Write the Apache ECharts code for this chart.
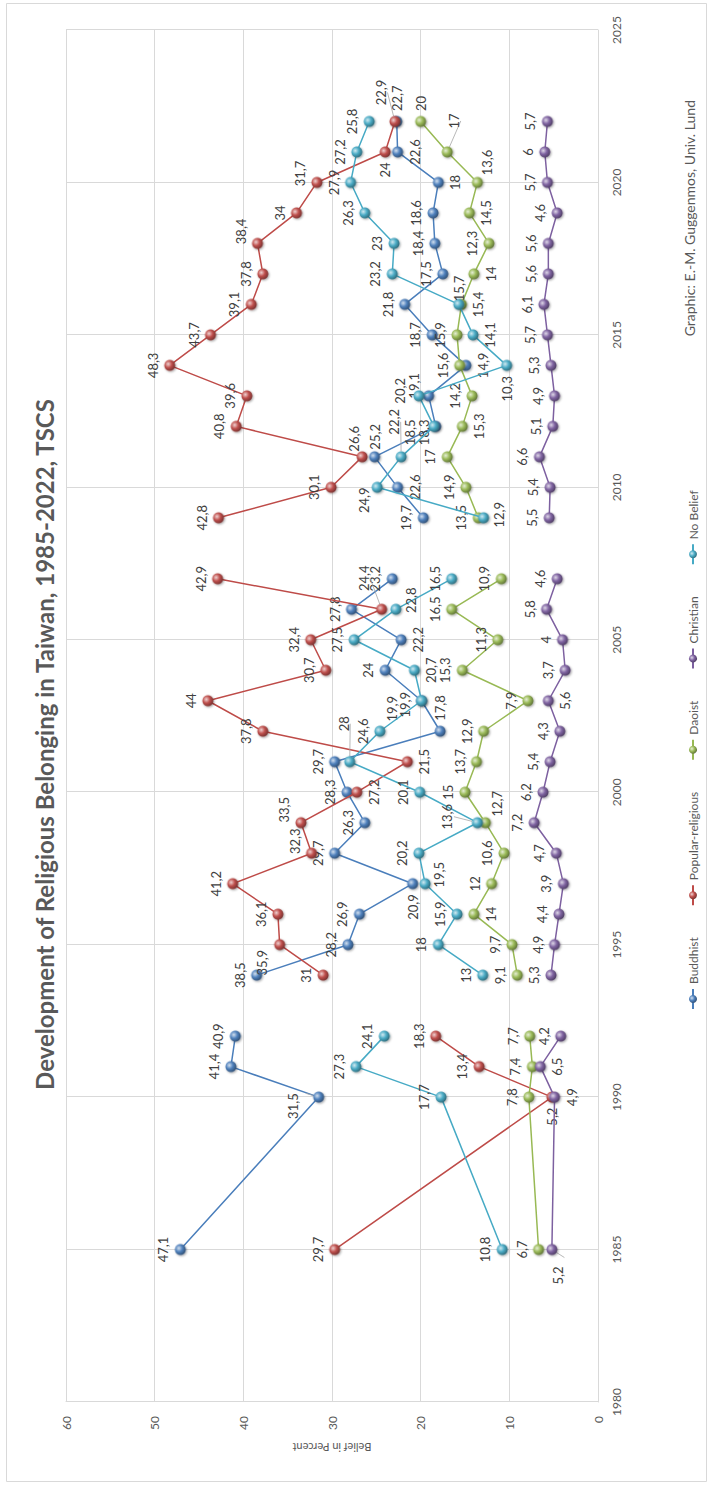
<!DOCTYPE html>
<html>
<head>
<meta charset="utf-8">
<title>Development of Religious Belonging in Taiwan</title>
<script src="https://cdn.jsdelivr.net/npm/echarts@6/dist/echarts.min.js"></script>
<style>
  html, body { margin: 0; padding: 0; width: 709px; height: 1489px; overflow: hidden; background: #fff; }
  /* the chart is laid out landscape and turned a quarter turn to fit the portrait page */
  #chart {
    position: absolute; left: 0; top: 0;
    width: 1489px; height: 709px;
    transform-origin: 0 0;
    transform: translate(0px, 1489px) rotate(-90deg);
  }
</style>
</head>
<body>
<div id="chart"></div>
<script>
// Survey years (1993 and 2008 have no wave, so the lines break there)
const years = [1985, 1990, 1991, 1992, 1993, 1994, 1995, 1996, 1997, 1998, 1999, 2000, 2001, 2002, 2003,
  2004, 2005, 2006, 2007, 2008, 2009, 2010, 2011, 2012, 2013, 2014, 2015, 2016, 2017, 2018, 2019, 2020, 2021, 2022];

const buddhist = [47.1, 31.5, 41.4, 40.9, null, 38.5, 28.2, 26.9, 20.9, 29.7, 26.3, 28.3, 29.7, 17.8, 19.9,
  24, 22.2, 27.8, 23.2, null, 19.7, 22.6, 25.2, 18.3, 19.1, 14.9, 18.7, 21.8, 17.5, 18.4, 18.6, 18, 22.6, 22.7];
const popular = [29.7, 5.2, 13.4, 18.3, null, 31, 35.9, 36.1, 41.2, 32.3, 33.5, 27.2, 21.5, 37.8, 44,
  30.7, 32.4, 24.4, 42.9, null, 42.8, 30.1, 26.6, 40.8, 39.6, 48.3, 43.7, 39.1, 37.8, 38.4, 34, 31.7, 24, 22.9];
const daoist = [6.7, 7.8, 7.4, 7.7, null, 9.1, 9.7, 14, 12, 10.6, 12.7, 15, 13.7, 12.9, 7.9,
  15.3, 11.3, 16.5, 10.9, null, 13.5, 14.9, 17, 15.3, 14.2, 15.6, 15.9, 15.4, 14, 12.3, 14.5, 13.6, 17, 20];
const christian = [5.2, 4.9, 6.5, 4.2, null, 5.3, 4.9, 4.4, 3.9, 4.7, 7.2, 6.2, 5.4, 4.3, 5.6,
  3.7, 4, 5.8, 4.6, null, 5.5, 5.4, 6.6, 5.1, 4.9, 5.3, 5.7, 6.1, 5.6, 5.6, 4.6, 5.7, 6, 5.7];
const noBelief = [10.8, 17.7, 27.3, 24.1, null, 13, 18, 15.9, 19.5, 20.2, 13.6, 20.1, 28, 24.6, 19.9,
  20.7, 27.5, 22.8, 16.5, null, 12.9, 24.9, 22.2, 18.5, 20.2, 10.3, 14.1, 15.7, 23.2, 23, 26.3, 27.9, 27.2, 25.8];

const seriesNames = ['Buddhist', 'Popular-religious', 'Daoist', 'Christian', 'No Belief'];
const yearTicks = [1980, 1985, 1990, 1995, 2000, 2005, 2010, 2015, 2020, 2025];
const percentTicks = [0, 10, 20, 30, 40, 50, 60];

// Office-style palette: line colour and marker base colour per series
const lineColors = ['#4a7ebb', '#be4b48', '#98b954', '#7d60a0', '#46aac5'];
const markColors = ['#4f81bd', '#c0504d', '#9bbb59', '#8064a2', '#4bacc6'];

// Where each value label sits: default above the marker; 'b','l','r' or a pixel offset from the marker centre
const labelSpots = {
  'Buddhist': { 1990: [-9, -26], 1997: 'l', 2002: 'r', 2003: [-8, -30], 2005: 'b', 2010: 'b', 2011: [20, 0], 2012: [-6, -12],
    2013: [10, -15], 2014: 'b', 2020: 'b', 2021: 'b', 2022: 'r' },
  'Popular-religious': { 1990: 'l', 1995: [-18, -18], 1998: [12, -17], 1999: [13, -17], 2000: 'b', 2001: 'b',
    2006: [31, -18], 2011: [18, -8], 2018: [12, -17], 2020: [9, -17], 2021: 'l', 2022: [29, -14] },
  'Daoist': { 1996: 'b', 1999: [19, 12], 2012: 'b', 2016: 'b', 2017: 'b', 2019: 'b', 2020: [20, 10], 2021: [31, 7], 2022: 'r' },
  'Christian': { 1985: [-26, 6], 1990: 'b', 1991: 'b', 2003: 'b' },
  'No Belief': { 1997: [9, 14], 1999: [6, -30], 2001: [38, -6], 2003: [-4, -17], 2004: 'b', 2006: [9, 15], 2009: [3, 15],
    2010: [-13, -13], 2011: [35, -7], 2012: [-6, -24], 2013: [5, -19], 2014: 'l', 2015: 'b', 2016: [16, 0] }
};

// Labels pulled away from their marker get a thin grey leader line
const leaderLabels = {
  'Buddhist': [1990],
  'Popular-religious': [2006, 2022],
  'Daoist': [2021],
  'Christian': [1985],
  'No Belief': [1999, 2001, 2011]
};

function lighten(hex, t) {
  const n = parseInt(hex.slice(1), 16);
  const r = (n >> 16) & 255, g = (n >> 8) & 255, b = n & 255;
  const f = c => Math.round(t >= 0 ? c + (255 - c) * t : c * (1 + t));
  return 'rgb(' + f(r) + ',' + f(g) + ',' + f(b) + ')';
}

function sphere(base) {
  return {
    type: 'radial', x: 0.62, y: 0.36, r: 0.72,
    colorStops: [
      { offset: 0, color: lighten(base, 0.75) },
      { offset: 0.45, color: base },
      { offset: 1, color: lighten(base, -0.45) }
    ]
  };
}

function labelFor(spot) {
  if (Array.isArray(spot)) return { position: 'inside', offset: spot };
  const pos = { t: 'top', b: 'bottom', l: 'left', r: 'right' }[spot || 't'];
  return { position: pos, distance: 5 };
}

const fmt = v => String(v).replace('.', ',');

function buildSeries(name, values, idx) {
  const spots = labelSpots[name] || {};
  const leaders = leaderLabels[name] || [];
  const data = years.map((yr, i) => {
    const v = values[i];
    if (v === null) return { value: [yr, '-'] };
    const item = { value: [yr, v], label: labelFor(spots[yr]) };
    if (leaders.indexOf(yr) >= 0) {
      item.labelLine = { show: true, smooth: false, length2: 0, lineStyle: { color: '#a6a6a6', width: 0.8 } };
    }
    return item;
  });
  return {
    name: name,
    type: 'line',
    data: data,
    connectNulls: false,
    symbol: 'circle',
    symbolSize: 11,
    lineStyle: { color: lineColors[idx], width: 1.5 },
    itemStyle: {
      color: sphere(markColors[idx]),
      borderWidth: 0,
      shadowColor: 'rgba(0,0,0,0.35)', shadowBlur: 2, shadowOffsetX: -1, shadowOffsetY: 1
    },
    label: {
      show: true,
      color: '#404040',
      fontFamily: 'Lato, "Open Sans", sans-serif',
      fontSize: 13,
      formatter: p => fmt(p.value[1])
    },
    emphasis: { disabled: true },
    z: 2 + idx
  };
}

const chart = echarts.init(document.getElementById('chart'), null, { renderer: 'svg', width: 1489, height: 709 });

const axisFont = 'Lato, "Open Sans", sans-serif';

chart.setOption({
  animation: false,
  backgroundColor: '#ffffff',
  color: markColors,
  title: {
    text: 'Development of Religious Belonging in Taiwan, 1985-2022, TSCS',
    left: 'center',
    top: 27,
    textStyle: { color: '#595959', fontSize: 24, fontWeight: 'bold', fontFamily: 'Lato, "Open Sans", sans-serif' }
  },
  legend: {
    data: seriesNames,
    left: 474,
    top: 682,
    itemWidth: 20,
    itemHeight: 10,
    itemGap: 31,
    textStyle: { color: '#595959', fontSize: 12, fontFamily: axisFont }
  },
  grid: { left: 87, right: 30, top: 66, bottom: 111, containLabel: false },
  xAxis: {
    type: 'value',
    min: yearTicks[0],
    max: yearTicks[yearTicks.length - 1],
    interval: 5,
    axisLine: { show: true, lineStyle: { color: '#d9d9d9', width: 1 } },
    axisTick: { show: false },
    axisLabel: { color: '#595959', fontSize: 12, margin: 12, fontFamily: axisFont,
      formatter: v => String(v) },
    splitLine: { show: true, lineStyle: { color: '#d9d9d9', width: 1 } }
  },
  yAxis: {
    type: 'value',
    min: percentTicks[0],
    max: percentTicks[percentTicks.length - 1],
    interval: 10,
    name: 'Belief in Percent',
    nameLocation: 'middle',
    nameRotate: 90,
    nameGap: 40,
    nameTextStyle: { color: '#595959', fontSize: 11, fontFamily: axisFont },
    axisLine: { show: true, lineStyle: { color: '#d9d9d9', width: 1 } },
    axisTick: { show: false },
    axisLabel: { color: '#595959', fontSize: 12, margin: 14, fontFamily: axisFont },
    splitLine: { show: true, lineStyle: { color: '#d9d9d9', width: 1 } }
  },
  graphic: [
    {
      type: 'rect', left: 5, top: 4, silent: true,
      shape: { width: 1478, height: 700 },
      style: { fill: 'none', stroke: '#d9d9d9', lineWidth: 1 }
    },
    {
      type: 'text', right: 100, top: 682, silent: true,
      style: { text: 'Graphic: E.-M. Guggenmos, Univ. Lund', fill: '#595959', fontSize: 14, fontFamily: axisFont }
    }
  ],
  series: [
    buildSeries(seriesNames[0], buddhist, 0),
    buildSeries(seriesNames[1], popular, 1),
    buildSeries(seriesNames[2], daoist, 2),
    buildSeries(seriesNames[3], christian, 3),
    buildSeries(seriesNames[4], noBelief, 4)
  ]
});
</script>
</body>
</html>
